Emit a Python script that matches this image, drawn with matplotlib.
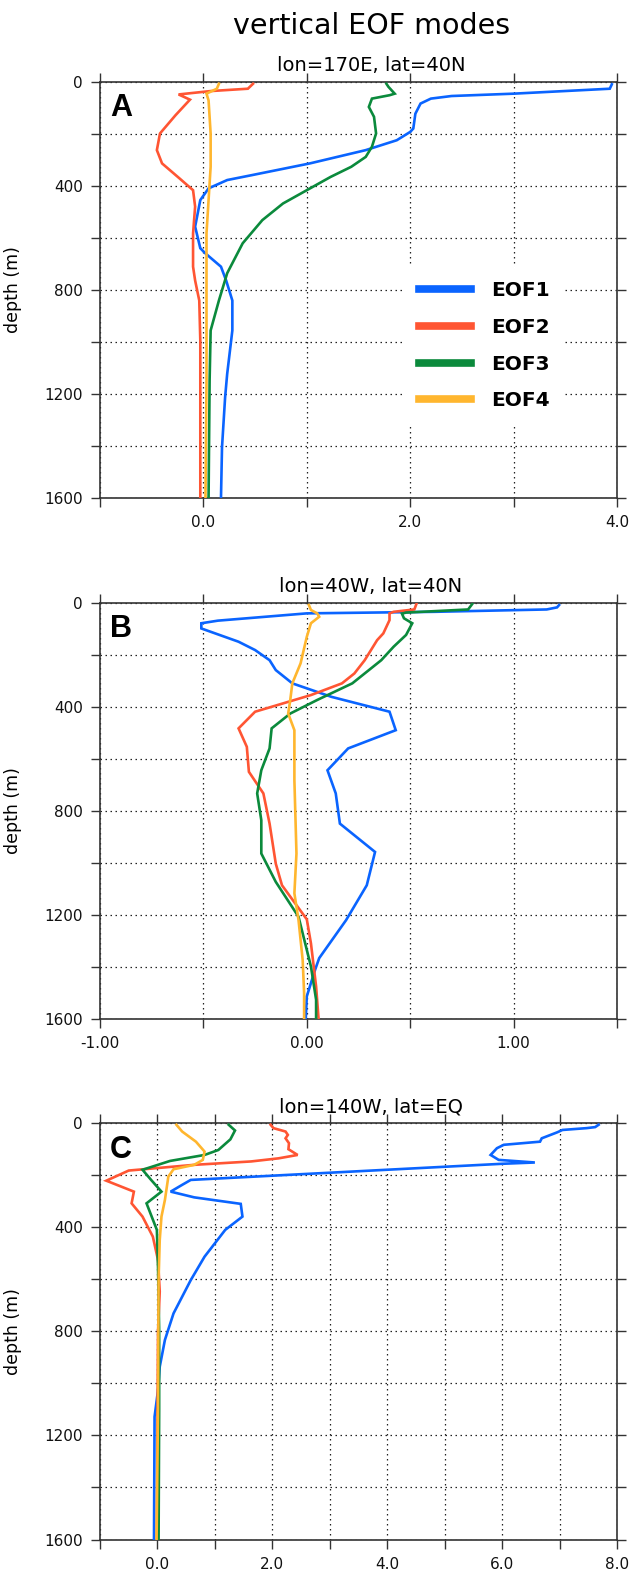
"""Vertical EOF modes at three locations (depth profiles)."""

import matplotlib
matplotlib.use("Agg")
import matplotlib.pyplot as plt
from matplotlib.lines import Line2D

# ---- data -----------------------------------------------------------------
mode_names = ["EOF1", "EOF2", "EOF3", "EOF4"]
panel_titles = ["lon=170E, lat=40N", "lon=40W, lat=40N", "lon=140W, lat=EQ"]
panel_letters = ["A", "B", "C"]

# panel A (170E, 40N)
a_eof1_d = [10, 27, 46, 55, 65, 84, 123, 180, 193, 225, 263, 314, 359, 378, 410,
            455, 557, 640, 660, 711, 764, 841, 956, 1123, 1213, 1405, 1600]
a_eof1_x = [3.95, 3.93, 3.0, 2.4, 2.2, 2.1, 2.05, 2.03, 2.0, 1.87, 1.57, 1.03, 0.47,
            0.23, 0.05, -0.03, -0.08, -0.03, 0.02, 0.17, 0.22, 0.28, 0.28, 0.23,
            0.21, 0.18, 0.17]
a_eof2_d = [8, 27, 36, 49, 69, 129, 199, 263, 314, 372, 417, 480, 583, 711, 764,
            841, 995, 1149, 1405, 1600]
a_eof2_x = [0.48, 0.43, 0.07, -0.24, -0.13, -0.27, -0.42, -0.45, -0.40, -0.23,
            -0.10, -0.08, -0.10, -0.10, -0.08, -0.04, -0.03, -0.03, -0.03, -0.03]
a_eof3_d = [8, 20, 46, 52, 65, 97, 135, 199, 250, 289, 327, 366, 417, 468, 532,
            621, 736, 841, 956, 1149, 1600]
a_eof3_x = [1.77, 1.79, 1.85, 1.80, 1.63, 1.60, 1.65, 1.67, 1.63, 1.57, 1.43, 1.23,
            1.0, 0.77, 0.57, 0.38, 0.23, 0.15, 0.07, 0.06, 0.05]
a_eof4_d = [8, 27, 46, 72, 199, 327, 455, 583, 800, 1149, 1600]
a_eof4_x = [0.15, 0.13, 0.03, 0.05, 0.07, 0.07, 0.05, 0.03, 0.03, 0.03, 0.02]

# panel B (40W, 40N)
b_eof1_d = [9, 18, 26, 35, 41, 69, 79, 99, 150, 182, 221, 259, 310, 362, 419, 490,
            560, 644, 733, 849, 958, 1086, 1220, 1366, 1411, 1513, 1600]
b_eof1_x = [1.22, 1.21, 1.16, 0.62, 0.0, -0.43, -0.51, -0.51, -0.33, -0.25, -0.18,
            -0.15, -0.07, 0.12, 0.40, 0.43, 0.20, 0.10, 0.14, 0.16, 0.33, 0.29,
            0.19, 0.06, 0.04, 0.0, -0.005]
b_eof2_d = [5, 26, 35, 41, 67, 118, 144, 221, 272, 310, 355, 419, 483, 554, 650,
            733, 849, 1003, 1086, 1217, 1309, 1475, 1600]
b_eof2_x = [0.53, 0.52, 0.42, 0.40, 0.40, 0.37, 0.34, 0.28, 0.23, 0.17, 0.02, -0.25,
            -0.33, -0.29, -0.28, -0.21, -0.18, -0.15, -0.12, 0.0, 0.02, 0.045, 0.057]
b_eof3_d = [5, 26, 38, 42, 60, 79, 124, 169, 221, 310, 374, 426, 483, 560, 644,
            733, 836, 964, 1073, 1207, 1398, 1526, 1600]
b_eof3_x = [0.80, 0.78, 0.48, 0.46, 0.47, 0.51, 0.48, 0.42, 0.36, 0.22, 0.05, -0.08,
            -0.17, -0.18, -0.22, -0.24, -0.22, -0.22, -0.15, -0.04, 0.02, 0.045, 0.045]
b_eof4_d = [9, 28, 41, 54, 79, 131, 233, 310, 374, 426, 490, 682, 964, 1117, 1220,
            1373, 1500, 1600]
b_eof4_x = [0.01, 0.02, 0.05, 0.06, 0.02, 0.0, -0.03, -0.07, -0.08, -0.09, -0.06,
            -0.06, -0.05, -0.06, -0.04, -0.02, -0.013, -0.013]

# panel C (140W, EQ)
c_eof1_d = [6, 15, 19, 26, 35, 58, 71, 83, 96, 122, 141, 151, 156, 218, 237, 263,
            285, 310, 359, 410, 513, 603, 731, 833, 936, 1026, 1128, 1600]
c_eof1_x = [7.68, 7.62, 7.47, 7.05, 6.96, 6.69, 6.66, 6.03, 5.91, 5.80, 5.94, 6.57,
            6.0, 0.58, 0.43, 0.23, 0.64, 1.45, 1.48, 1.18, 0.82, 0.58, 0.28, 0.13,
            0.04, 0.01, -0.05, -0.06]
c_eof2_d = [6, 19, 32, 45, 58, 77, 100, 122, 135, 147, 160, 182, 221, 263, 308, 359,
            436, 526, 647, 800, 1200, 1600]
c_eof2_x = [1.97, 2.02, 2.23, 2.27, 2.23, 2.29, 2.28, 2.44, 2.11, 1.63, 0.64, -0.50,
            -0.89, -0.41, -0.45, -0.26, -0.08, 0.01, 0.04, 0.01, 0.0, -0.01]
c_eof3_d = [6, 28, 62, 103, 122, 145, 179, 218, 263, 308, 410, 551, 800, 1100, 1600]
c_eof3_x = [1.24, 1.35, 1.27, 1.06, 0.82, 0.22, -0.26, -0.11, 0.07, -0.19, -0.01,
            0.01, 0.03, 0.03, 0.02]
c_eof4_d = [6, 32, 71, 109, 141, 160, 177, 205, 295, 359, 449, 600, 1100, 1600]
c_eof4_x = [0.33, 0.43, 0.67, 0.82, 0.79, 0.64, 0.28, 0.19, 0.13, 0.07, 0.04, 0.02,
            0.01, -0.015]

# axis ticks / labels
a_xticks = [-1, 0, 1, 2, 3, 4]
a_xlabels = ["", "0.0", "", "2.0", "", "4.0"]
b_xticks = [-1.0, -0.5, 0.0, 0.5, 1.0, 1.5]
b_xlabels = ["-1.00", "", "0.00", "", "1.00", ""]
c_xticks = [-1, 0, 1, 2, 3, 4, 5, 6, 7, 8]
c_xlabels = ["", "0.0", "", "2.0", "", "4.0", "", "6.0", "", "8.0"]
depth_ticks = [0, 200, 400, 600, 800, 1000, 1200, 1400, 1600]
depth_labels = ["0", "", "400", "", "800", "", "1200", "", "1600"]

colors = ["#0a64ff", "#ff5533", "#0b8a3c", "#ffb62e"]

# ---- figure ---------------------------------------------------------------
W, H = 630, 1571
fig = plt.figure(figsize=(W / 100, H / 100), dpi=100)

left, width, height = 100 / W, 517 / W, 416.3 / H
tops = [81.7, 602.7, 1123.2]

panels = [
    ([(a_eof1_x, a_eof1_d), (a_eof2_x, a_eof2_d), (a_eof3_x, a_eof3_d), (a_eof4_x, a_eof4_d)],
     a_xticks, a_xlabels),
    ([(b_eof1_x, b_eof1_d), (b_eof2_x, b_eof2_d), (b_eof3_x, b_eof3_d), (b_eof4_x, b_eof4_d)],
     b_xticks, b_xlabels),
    ([(c_eof1_x, c_eof1_d), (c_eof2_x, c_eof2_d), (c_eof3_x, c_eof3_d), (c_eof4_x, c_eof4_d)],
     c_xticks, c_xlabels),
]

axes = []
for i, (curves, xt, xl) in enumerate(panels):
    bottom = 1 - (tops[i] + 416.3) / H
    ax = fig.add_axes([left, bottom, width, height])
    axes.append(ax)

    for (xv, dv), col in zip(curves, colors):
        ax.plot(xv, dv, color=col, lw=1.9, solid_joinstyle="miter", zorder=3)

    ax.set_xlim(xt[0], xt[-1])
    ax.set_ylim(1600, 0)
    ax.set_xticks(xt)
    ax.set_xticklabels(xl)
    ax.set_yticks(depth_ticks)
    ax.set_yticklabels(depth_labels)
    ax.tick_params(direction="out", length=6.5, width=1.0, color="#333333",
                   top=True, right=True, labelsize=11, pad=6, labelcolor="#111111")
    ax.grid(True, color="#222222", lw=0.9, linestyle=(0, (1.2, 2.8)), zorder=1)
    for sp in ax.spines.values():
        sp.set_linewidth(1.2)
        sp.set_color("#333333")

    ax.set_ylabel("depth (m)", fontsize=12.5)
    ax.yaxis.set_label_coords(-(100 - 22) / 517, 0.5)

    ax.text((371 - 100) / 517, 1 + 11 / 416.3, panel_titles[i], transform=ax.transAxes,
            ha="center", va="baseline", fontsize=14)
    ax.text(10 / 517, 1 - 11.5 / 416.3, panel_letters[i], transform=ax.transAxes,
            ha="left", va="top", fontsize=22, fontweight="bold",
            family="Liberation Sans", zorder=5)

# legend in panel A
handles = [Line2D([], [], color=c, lw=5.5) for c in colors]
leg = axes[0].legend(handles, mode_names, loc="upper left",
                     bbox_to_anchor=((404 - 100) / 517, 1 - (266 - 81.7) / 416.3),
                     frameon=True, fancybox=False, framealpha=1.0,
                     prop={"weight": "bold", "size": 14.5},
                     handlelength=2.6, handletextpad=1.0, labelspacing=0.88,
                     borderpad=0.75, borderaxespad=0.0)
leg.get_frame().set_facecolor("white")
leg.get_frame().set_edgecolor("none")
leg.set_zorder(4)

fig.text(372 / W, 1 - 34.5 / H, "vertical EOF modes", ha="center", va="baseline",
         fontsize=20.5)

plt.savefig("out.png", dpi=100)
plt.close()
